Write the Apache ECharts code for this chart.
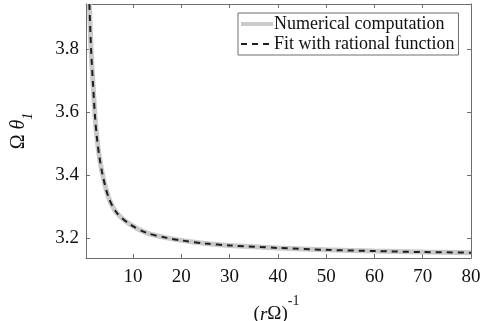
<!DOCTYPE html>
<html>
<head>
<meta charset="utf-8">
<script src="https://cdn.jsdelivr.net/npm/echarts@6/dist/echarts.min.js"></script>
<style>
  html, body { margin: 0; padding: 0; background: #fff; }
  #chart { width: 480px; height: 321px; }
</style>
</head>
<body>
<div id="chart"></div>
<script>
// values
const xValues = [0.95, 1.3, 1.7, 2.1, 2.5, 3.0, 3.7, 4.9, 6.6, 9.4, 12.8, 17, 20, 25, 30, 40, 50, 60, 70, 80];
const numericalY = [3.944, 3.80, 3.69, 3.59, 3.52, 3.46, 3.40, 3.33, 3.28, 3.243, 3.216, 3.200, 3.192, 3.182, 3.176, 3.168, 3.162, 3.158, 3.155, 3.153];
const fitY = [3.944, 3.80, 3.69, 3.59, 3.52, 3.46, 3.40, 3.33, 3.28, 3.243, 3.216, 3.200, 3.192, 3.182, 3.176, 3.168, 3.162, 3.158, 3.155, 3.153];
const xTicks = [10, 20, 30, 40, 50, 60, 70, 80];
const yTicks = [3.2, 3.4, 3.6, 3.8];
const seriesNames = ["Numerical computation", "Fit with rational function"];

const FONT = "'Liberation Serif', 'DejaVu Serif', serif";
const AXIS = "#6e6e6e";
const GRAY = "#cacaca";
const DARK = "#1e1e1e";
const X_MIN = 0.25, X_MAX = 80, Y_MIN = 3.136, Y_MAX = 3.944;

const chart = echarts.init(document.getElementById("chart"), null, { renderer: "canvas" });

const tick = (vals) => ({ show: true, inside: true, length: 4, customValues: vals, lineStyle: { color: AXIS } });

chart.setOption({
  animation: false,
  backgroundColor: "#fff",
  textStyle: { fontFamily: FONT, color: "#111" },
  grid: { left: 86, right: 9, top: 4, bottom: 63, outerBoundsMode: "none", containLabel: false },
  legend: {
    orient: "vertical",
    left: 238,
    top: 13,
    itemWidth: 32,
    itemHeight: 14,
    itemGap: 2,
    padding: [2, 4, 2, 1],
    borderColor: AXIS,
    borderWidth: 1,
    backgroundColor: "#fff",
    itemStyle: { opacity: 0 },
    textStyle: { fontFamily: FONT, fontSize: 18, color: "#111", padding: [0, 0, 0, -4] },
    data: [
      { name: seriesNames[0], lineStyle: { width: 4, color: GRAY } },
      { name: seriesNames[1], lineStyle: { width: 2, color: DARK, type: [6, 5] } },
    ],
  },
  xAxis: [
    {
      type: "value",
      min: X_MIN,
      max: X_MAX,
      position: "bottom",
      axisLine: { show: true, lineStyle: { color: AXIS } },
      splitLine: { show: false },
      axisTick: tick(xTicks),
      axisLabel: { customValues: xTicks, fontFamily: FONT, fontSize: 19, color: "#111", margin: 10 },
      name: "{n|(}{i|r}{n|Ω)}{s|-1}",
      nameLocation: "middle",
      nameGap: 36,
      nameTextStyle: {
        fontFamily: FONT,
        padding: [0, 4, 0, 0],
        rich: {
          n: { fontFamily: FONT, fontSize: 19, color: "#111", lineHeight: 30, verticalAlign: "bottom" },
          i: { fontFamily: FONT, fontSize: 19, fontStyle: "italic", color: "#111", lineHeight: 30, verticalAlign: "bottom" },
          s: { fontFamily: FONT, fontSize: 14, color: "#111", lineHeight: 14, verticalAlign: "top" },
        },
      },
    },
    {
      type: "value",
      min: X_MIN,
      max: X_MAX,
      position: "top",
      axisLine: { show: true, lineStyle: { color: AXIS } },
      splitLine: { show: false },
      axisTick: tick(xTicks),
      axisLabel: { customValues: xTicks, color: "rgba(0,0,0,0)", formatter: () => "" },
    },
  ],
  yAxis: [
    {
      type: "value",
      min: Y_MIN,
      max: Y_MAX,
      position: "left",
      axisLine: { show: true, lineStyle: { color: AXIS } },
      splitLine: { show: false },
      axisTick: tick(yTicks),
      axisLabel: {
        customValues: yTicks,
        fontFamily: FONT,
        fontSize: 19,
        color: "#111",
        margin: 7,
        formatter: (v) => v.toFixed(1),
      },
      name: "{n|Ω }{t|θ}{b|1}",
      nameLocation: "middle",
      nameGap: 51,
      nameTextStyle: {
        fontFamily: FONT,
        rich: {
          n: { fontFamily: FONT, fontSize: 20, color: "#111", lineHeight: 26, verticalAlign: "top" },
          t: { fontFamily: FONT, fontSize: 20, fontStyle: "italic", color: "#111", lineHeight: 26, verticalAlign: "top" },
          b: { fontFamily: FONT, fontSize: 14, fontStyle: "italic", color: "#111", lineHeight: 26, verticalAlign: "bottom" },
        },
      },
    },
    {
      type: "value",
      min: Y_MIN,
      max: Y_MAX,
      position: "right",
      axisLine: { show: true, lineStyle: { color: AXIS } },
      splitLine: { show: false },
      axisTick: tick(yTicks),
      axisLabel: { customValues: yTicks, color: "rgba(0,0,0,0)", formatter: () => "" },
    },
  ],
  series: [
    {
      name: seriesNames[0],
      type: "line",
      data: xValues.map((x, i) => [x, numericalY[i]]),
      smooth: 0.3,
      symbol: "none",
      clip: true,
      lineStyle: { color: GRAY, width: 5 },
      itemStyle: { color: GRAY },
    },
    {
      name: seriesNames[1],
      type: "line",
      data: xValues.map((x, i) => [x, fitY[i]]),
      smooth: 0.3,
      symbol: "none",
      clip: true,
      lineStyle: { color: DARK, width: 2, type: [6, 5] },
      itemStyle: { color: DARK },
    },
  ],
});
</script>
</body>
</html>
